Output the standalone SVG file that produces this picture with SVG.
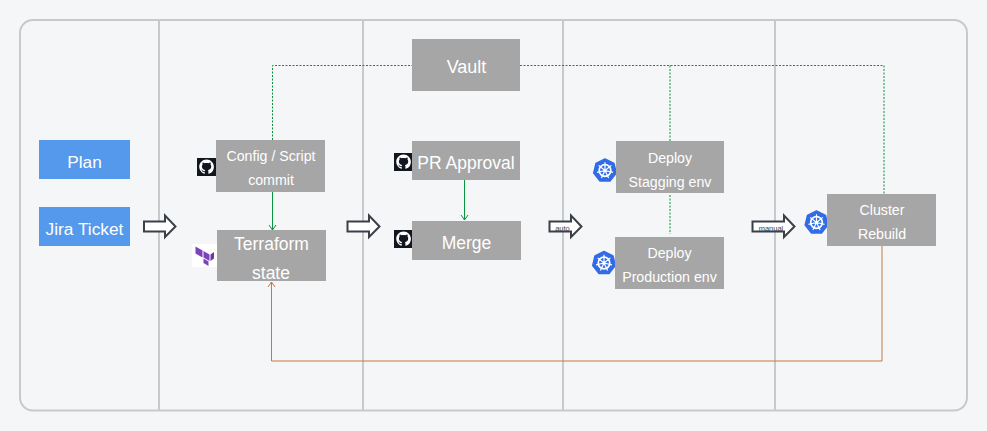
<svg xmlns="http://www.w3.org/2000/svg" width="987" height="431" viewBox="0 0 987 431">
<style>
.lane{fill:none;stroke:#c8c9cb;stroke-width:2}
.box{fill:#a6a6a6}
.blue{fill:#5599ec}
text{font-family:"Liberation Sans",Arial,sans-serif;fill:#fff;text-anchor:middle}
.t14{font-size:14.200px}
.t16{font-size:17.300px}
.t17{font-size:17.500px}
.tiny{font-size:7.500px;fill:#444}
.dash{fill:none;stroke:#0a8f3c;stroke-width:1;stroke-dasharray:2 1.500}
.solid{fill:none;stroke:#0a9440;stroke-width:1}
.rust{fill:none;stroke:#c07a45;stroke-width:1}
.block{fill:#fff;stroke:#3b4046;stroke-width:2}
</style>
<defs>
<marker id="gh" markerWidth="10" markerHeight="10" refX="8" refY="5" orient="auto" markerUnits="userSpaceOnUse"><path d="M3 1.500L8 5L3 8.500" fill="none" stroke="#0a9440" stroke-width="1"/></marker>
<marker id="og" markerWidth="10" markerHeight="10" refX="8" refY="5" orient="auto" markerUnits="userSpaceOnUse"><path d="M3 1.500L8 5L3 8.500" fill="none" stroke="#c9773a" stroke-width="1"/></marker>
<g id="gitmark">
<path fill="#fff" transform="translate(2.200,1.400) scale(0.92)" d="M8 0C3.580 0 0 3.580 0 8c0 3.540 2.290 6.530 5.470 7.590.4.070.55-.17.55-.38 0-.19-.01-.82-.01-1.490-2.010.37-2.530-.49-2.690-.94-.09-.23-.48-.94-.82-1.130-.28-.15-.68-.52-.01-.53.63-.01 1.080.58 1.230.82.72 1.210 1.870.87 2.330.66.07-.52.28-.87.51-1.070-1.780-.2-3.640-.89-3.640-3.950 0-.87.31-1.590.82-2.150-.08-.2-.36-1.020.08-2.120 0 0 .67-.21 2.200.82.64-.18 1.320-.27 2-.27.68 0 1.360.09 2 .27 1.530-1.040 2.200-.82 2.200-.82.44 1.100.16 1.920.08 2.120.51.56.82 1.270.82 2.150 0 3.070-1.870 3.750-3.650 3.950.29.25.54.73.54 1.480 0 1.070-.01 1.930-.01 2.200 0 .21.15.46.55.38A8.013 8.013 0 0016 8c0-4.420-3.580-8-8-8z"/>
</g>
<g id="github"><rect width="19" height="18" fill="#12161f"/><use href="#gitmark"/></g>
<g id="k8s">
<polygon points="0,-11.600 9,-7.200 11.300,2.600 5,10.500 -5,10.500 -11.300,2.600 -9,-7.200" fill="#326ce5" stroke="#326ce5" stroke-width="1.500" stroke-linejoin="round"/>
<circle r="5.800" fill="none" stroke="#fff" stroke-width="1.700"/>
<circle r="1.500" fill="#fff"/>
<path d="M0 0V-8.200M0 0L6.400-5.100M0 0L8 1.800M0 0L3.600 7.400M0 0L-3.600 7.400M0 0L-8 1.800M0 0L-6.400-5.100" stroke="#fff" stroke-width="1.200" fill="none"/>
</g>
</defs>
<rect width="987" height="431" fill="#f5f6f8"/>
<g id="lanes">
<rect class="lane" x="20" y="20" width="947" height="390.500" rx="13"/>
<path class="lane" d="M159 20V410M363 20V410M563 20V410M775 20V410"/>
</g>
<g id="connectors">
<path class="dash" d="M272.500 140V65.500H412M520 65.500H884V194M670 65.500V141M670 195V234"/>
<path class="solid" d="M272.500 192V230" marker-end="url(#gh)"/>
<path class="solid" d="M464.500 180V220" marker-end="url(#gh)"/>
<path class="rust" d="M882 246V361H271.500V282" marker-end="url(#og)"/>
<path class="block" d="M144 221.500H165V215.500L175.500 226.500L165 237V231.500H144Z"/>
<path class="block" d="M347.500 221.500H369V215.500L379.500 226.500L369 237V231.500H347.500Z"/>
<path class="block" d="M549.500 221.500H571V215.500L581.500 226.500L571 237V231.500H549.500Z"/>
<path class="block" d="M752.500 221.500H784V215.500L794.500 226.500L784 237V231.500H752.500Z"/>
<text class="tiny" x="562.500" y="230.500">auto</text>
<text class="tiny" x="771" y="230.500">manual</text>
</g>
<g id="plan"><rect class="blue" x="39" y="140" width="91" height="39"/><text class="t16" x="84.500" y="167.500">Plan</text></g>
<g id="jira"><rect class="blue" x="39" y="207" width="91" height="39"/><text class="t16" x="84.500" y="234.500">Jira Ticket</text></g>
<g id="config"><use href="#github" x="197" y="158"/><rect class="box" x="216" y="140" width="109" height="52"/><text class="t14" x="271" y="161">Config / Script</text><text class="t14" x="271" y="185">commit</text></g>
<g id="terraform"><rect x="192" y="244" width="25" height="23" fill="#fff"/>
<polygon points="195.500,246.500 202.500,250.500 202.500,257.500 195.500,253.500" fill="#7b42bc"/>
<polygon points="203.500,251 209.500,254.500 209.500,261 203.500,257.500" fill="#7b42bc"/>
<polygon points="210.500,254.500 214,252 214,258.500 210.500,261" fill="#6a36a8"/>
<polygon points="203.500,258.500 208.500,261.500 208.500,266 203.500,263" fill="#7b42bc"/>
<rect class="box" x="217" y="230" width="109" height="51"/><text class="t17" x="271.500" y="250">Terraform</text><text class="t17" x="271" y="279">state</text></g>
<g id="vault"><rect class="box" x="412" y="39" width="108" height="52"/><text class="t16" x="466.500" y="72.500" style="font-size:18px">Vault</text></g>
<g id="pr"><use href="#github" x="394" y="153"/><rect class="box" x="412" y="141" width="108" height="39"/><text class="t17" x="466" y="169">PR Approval</text></g>
<g id="merge"><use href="#github" x="394" y="230"/><rect class="box" x="412" y="221" width="109" height="39"/><text class="t17" x="466.500" y="248.500">Merge</text></g>
<g id="staging"><use href="#k8s" x="605" y="170.500"/><rect class="box" x="616" y="141" width="108" height="52"/><text class="t14" x="670" y="163">Deploy</text><text class="t14" x="670" y="187">Stagging env</text></g>
<g id="production"><use href="#k8s" x="604" y="263"/><rect class="box" x="615" y="237" width="109" height="52"/><text class="t14" x="669.500" y="258">Deploy</text><text class="t14" x="669.500" y="282">Production env</text></g>
<g id="cluster"><use href="#k8s" x="816.500" y="222.500"/><rect class="box" x="827" y="194" width="109" height="52"/><text class="t14" x="882" y="215">Cluster</text><text class="t14" x="882" y="239">Rebuild</text></g>
</svg>
